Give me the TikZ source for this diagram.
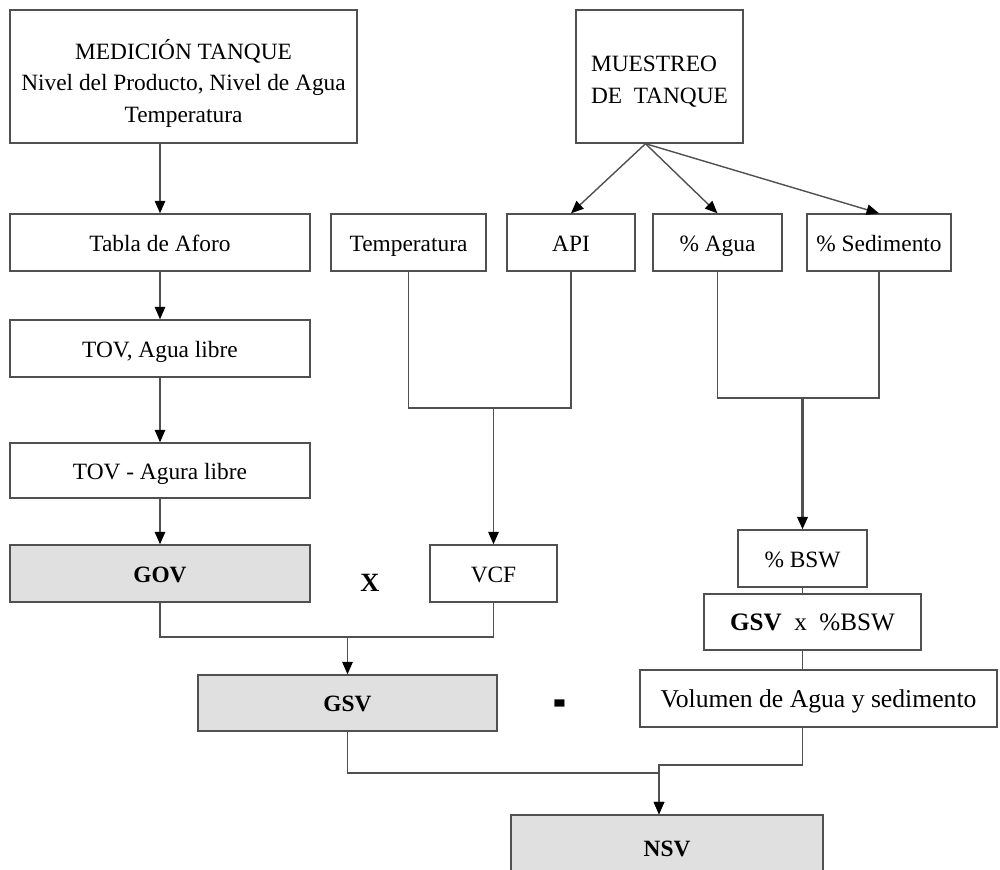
\documentclass[tikz,border=0pt]{standalone}
\usepackage{fontspec}
\setmainfont{Liberation Serif}
\usetikzlibrary{arrows.meta,calc,positioning}
\definecolor{fline}{RGB}{80,80,80}
\definecolor{fgray}{RGB}{224,224,224}

\begin{document}
\begin{tikzpicture}[x=0.02cm,y=-0.02cm,>={Triangle[length=2.5mm,width=2.1mm,color=black]},
  every node/.style={font=\fontsize{13.3}{18}\selectfont},
  marco/.style={draw=fline,line width=0.8pt,inner sep=2pt,minimum height=1.14cm},
  caja/.style={marco,text height=2.4ex,text depth=0.2ex},
  gris/.style={caja,fill=fgray,font=\fontsize{13.3}{18}\selectfont\bfseries},
  linea/.style={fline,line width=0.8pt},
  flecha/.style={->,linea}]
  \useasboundingbox (0,0) rectangle (1000,869);
  \clip (0,0) rectangle (1000,869);
  % columna de medicion
  \node[marco,align=center,minimum width=6.94cm,minimum height=2.66cm] (med) at (183.5,76.5) {\rule{0pt}{19pt}MEDICIÓN TANQUE\\Nivel del Producto, Nivel de Agua\\Temperatura};
  \node[caja,minimum width=6cm] (tabla) at (160,242.5) {Tabla de Aforo};
  \node[caja,minimum width=6cm] (tov) at (160,348.5) {TOV, Agua libre};
  \node[caja,minimum width=6cm,minimum height=1.1cm] (tovl) at (160,470.5) {TOV - Agura libre};
  \node[gris,minimum width=6cm] (gov) at (160,573.5) {GOV};
  % muestreo
  \node[marco,align=left,minimum width=3.34cm,minimum height=2.66cm] (mue) at (659.5,76.5) {\rule{0pt}{15pt}MUESTREO\\DE~~TANQUE};
  \node[caja,minimum width=3.1cm] (temp) at (408.5,242.5) {Temperatura};
  \node[caja,minimum width=2.56cm] (api) at (571,242.5) {API};
  \node[caja,minimum width=2.58cm] (agua) at (717.5,242.5) {\% Agua};
  \node[caja,minimum width=2.88cm] (sed) at (879,242.5) {\% Sedimento};
  % factores
  \node[caja,minimum width=2.54cm] (vcf) at (493.5,573.5) {VCF};
  \node[font=\fontsize{15}{18}\selectfont\bfseries] (por) at (370,583) {X};
  \node[gris,minimum width=5.98cm,minimum height=1.12cm] (gsv) at (347.5,703) {GSV};
  \node[font=\fontsize{22}{24}\selectfont\bfseries] (menos) at (560,712) {\scalebox{1}[2.2]{-}};
  \node[caja,minimum width=2.58cm] (bsw) at (802.5,558.5) {\% BSW};
  \node[caja,line width=1.4pt,minimum width=4.34cm,minimum height=1.12cm,font=\fontsize{14.3}{18}\selectfont] (gsvx) at (812.5,622) {\textbf{GSV}~~x~~\%BSW};
  \node[caja,line width=1.4pt,minimum width=7.14cm,font=\fontsize{14.6}{18}\selectfont] (vol) at (818.5,698.5) {Volumen de Agua y sedimento};
  \node[gris,minimum width=6.24cm,minimum height=1.3cm] (nsv) at (667,847.5) {NSV};
  % conectores izquierda
  \draw[flecha] (med.south -| tabla.north) -- (tabla.north);
  \draw[flecha] (tabla) -- (tov);
  \draw[flecha] (tov) -- (tovl);
  \draw[flecha] (tovl) -- (gov);
  % muestreo a API, agua, sedimento
  \coordinate (mm) at ($(mue.south)+(-14,0)$);
  \foreach \d in {api,agua,sed} \draw[flecha] (mm) -- (\d.north);
  % temperatura y API a VCF
  \coordinate (tj) at (0,408);
  \draw[linea] (temp.south) |- (api.south |- tj) -- (api.south);
  \draw[flecha] (vcf.north |- tj) -- (vcf.north);
  % agua y sedimento a BSW
  \coordinate (aj) at (0,398);
  \draw[linea] (agua.south) |- (sed.south |- aj) -- (sed.south);
  \draw[flecha,line width=1.4pt] (bsw.north |- aj) -- (bsw.north);
  \draw[linea] (bsw.south) -- (bsw.south |- gsvx.north);
  \draw[linea] (gsvx.south -| bsw.south) -- (vol.north -| bsw.south);
  % GOV x VCF
  \coordinate (gj) at (0,637);
  \draw[linea] (gov.south) |- (vcf.south |- gj) -- (vcf.south);
  \draw[flecha] (gsv.north |- gj) -- (gsv.north);
  % GSV - volumen
  \coordinate (nin) at ($(nsv.north)+(-8,0)$);
  \coordinate (sj) at (0,773);
  \coordinate (vj) at (0,765);
  \draw[flecha] (gsv.south) |- (nin |- sj) -- (nin);
  \draw[flecha] (vol.south -| bsw.south) |- (nin |- vj) -- (nin);
\end{tikzpicture}
\end{document}
